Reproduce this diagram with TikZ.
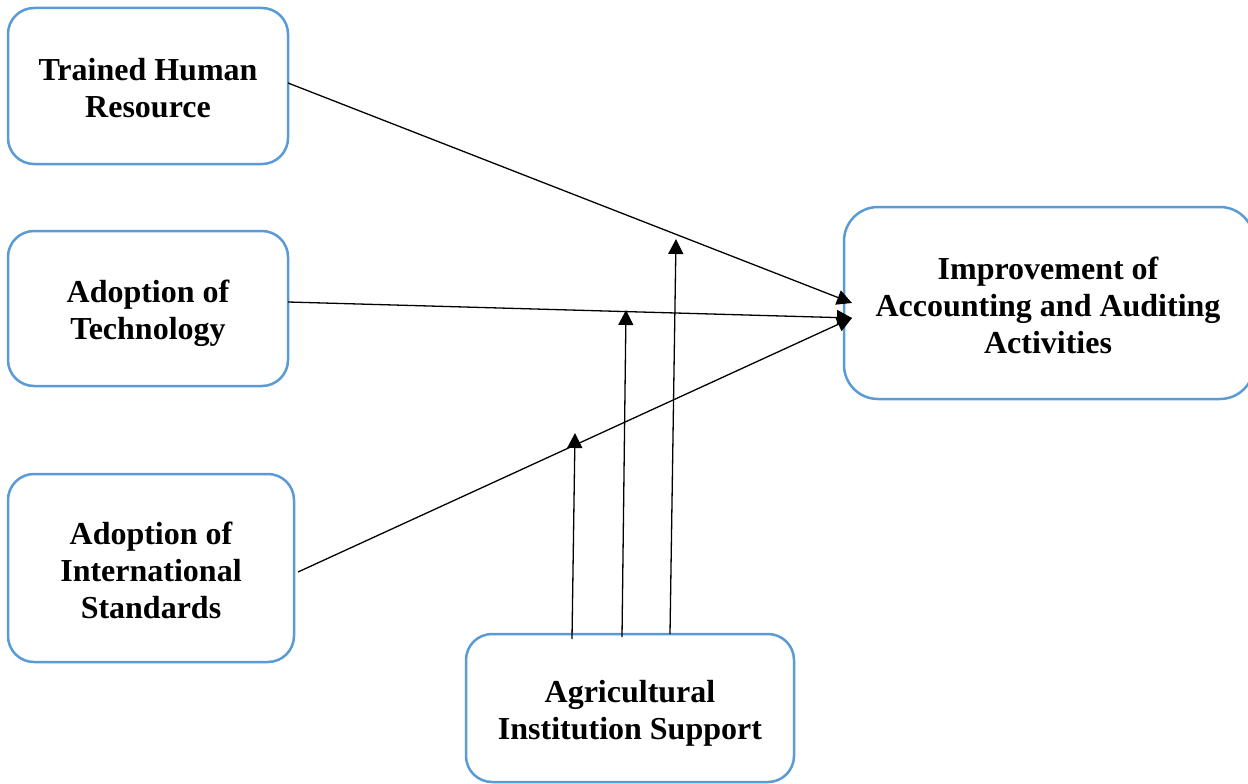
\documentclass[tikz,border=0pt]{standalone}
\usepackage{fontspec}
\setmainfont{Liberation Serif}
\usetikzlibrary{arrows.meta}
\definecolor{boxblue}{RGB}{91,155,213}
\tikzset{
  boxnode/.style={draw=boxblue, line width=2.5pt, rounded corners=26pt, fill=white, inner sep=0pt},
  boxtext/.style={align=center, inner sep=0pt,
    font=\fontsize{32}{37}\selectfont\bfseries},
  conn/.style={draw=black, line width=1.3pt, -{Triangle[length=15pt,width=15pt]}}
}
\begin{document}
\begin{tikzpicture}[x=1pt,y=-1pt]
\useasboundingbox (0,0) rectangle (1248,784);
\node[boxnode, minimum width=280pt, minimum height=156pt] (thr) at (148,86) {};
\node[boxtext] (thrT) at ([yshift=-2pt]thr.center) {Trained Human\\Resource};
\node[boxnode, minimum width=280pt, minimum height=155pt] (tech) at (148,308.5) {};
\node[boxtext] (techT) at ([yshift=-5pt]tech.center) {Adoption of\\Technology};
\node[boxnode, minimum width=286pt, minimum height=188pt] (std) at (151,568) {};
\node[boxtext] (stdT) at ([yshift=-2pt]std.center) {Adoption of\\International\\Standards};
\node[boxnode, rounded corners=34pt, minimum width=410pt, minimum height=192pt] (imp) at (1049,303) {};
\node[boxtext] (impT) at ([xshift=-1pt,yshift=-2pt]imp.center) {Improvement of\\Accounting and Auditing\\Activities};
\node[boxnode, minimum width=328pt, minimum height=148pt] (agr) at (630,708) {};
\node[boxtext] (agrT) at ([yshift=-5pt]agr.center) {Agricultural\\Institution Support};

\coordinate (s1) at (288,83);
\coordinate (s2) at (288,302);
\coordinate (s3) at (298,572);
\coordinate (t1) at (852,303);
\coordinate (t2) at (852,318);
\coordinate (a1) at (572,639);
\coordinate (a2) at (622,637);
\coordinate (a3) at (670,634);
\coordinate (m1) at (575,433);
\coordinate (m2) at (626,310);
\coordinate (m3) at (676,239);

\draw[conn] (s1) -- (t1);
\draw[conn] (s2) -- (t2);
\draw[conn] (s3) -- (t2);
\draw[conn] (a1) -- (m1);
\draw[conn] (a2) -- (m2);
\draw[conn] (a3) -- (m3);
\end{tikzpicture}
\end{document}
